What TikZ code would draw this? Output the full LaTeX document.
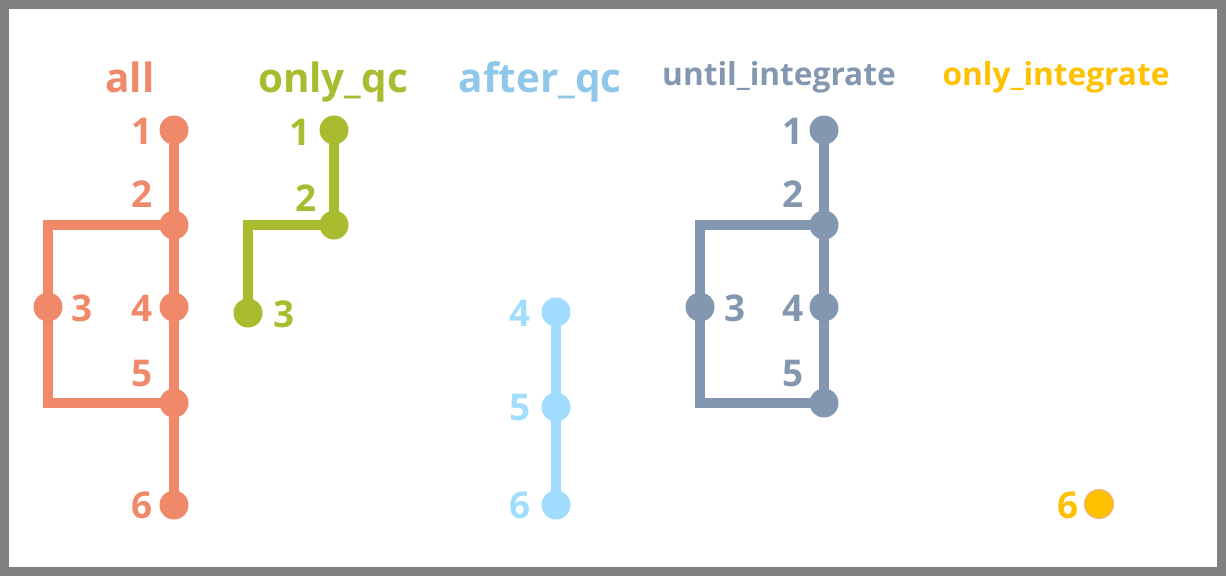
\documentclass[tikz,border=0pt]{standalone}
\usepackage{fontspec}
\setmainfont{Open Sans}
\usetikzlibrary{positioning}
\definecolor{colall}{RGB}{240,137,106}
\definecolor{colqc}{RGB}{169,187,46}
\definecolor{colafter}{RGB}{160,221,255}
\definecolor{colaftertit}{RGB}{142,199,232}
\definecolor{coluntil}{RGB}{132,151,176}
\definecolor{colint}{RGB}{255,192,0}
\definecolor{colintborde}{RGB}{244,177,131}
\definecolor{marco}{RGB}{128,128,128}

\begin{document}
\begin{tikzpicture}[x=0.02cm,y=-0.02cm,
		punto/.style={circle,fill,inner sep=0pt,minimum size=0.58cm},
		linea/.style={line width=0.2cm},
		numero/.style={font=\fontsize{21}{24}\selectfont\bfseries,inner sep=0pt},
		titulo/.style={font=\fontsize{23}{27}\selectfont\bfseries,anchor=base,inner sep=0pt},
		titulochico/.style={font=\fontsize{18}{22}\selectfont\bfseries,anchor=base,inner sep=0pt}]
			% Marco
			\useasboundingbox (0,0) rectangle (1226,576);
			\draw[marco,line width=0.18cm] (4.5,4.5) rectangle (1221.5,571.5);

			% Titulos
			\node[titulo,colall] (tall) at (130,92) {all};
			\node[titulo,colqc] (tqc) at (333,92) {only\_qc};
			\node[titulo,colaftertit] (tafter) at (540,92) {after\_qc};
			\node[titulochico,coluntil] (tuntil) at (779,85) {until\_integrate};
			\node[titulochico,colint] (tint) at (1056,85) {only\_integrate};

			% all
			\node[punto,colall] (a1) at (174,130) {};
			\node[punto,colall] (a2) at (174,225) {};
			\node[punto,colall] (a3) at (48,307) {};
			\node[punto,colall] (a4) at (174,307) {};
			\node[punto,colall] (a5) at (174,403) {};
			\node[punto,colall] (a6) at (174,505) {};
			\draw[linea,colall] (a1.center) -- (a2.center) -- (a4.center) -- (a5.center) -- (a6.center);
			\draw[linea,colall] (a2.center) -| (a3.center) |- (a5.center);
			\node[numero,colall] (na1) at (142,131) {1};
			\node[numero,colall] (na2) at (142,194) {2};
			\node[numero,colall] (na3) at (82,308) {3};
			\node[numero,colall] (na4) at (142,308) {4};
			\node[numero,colall] (na5) at (142,373) {5};
			\node[numero,colall] (na6) at (142,505) {6};

			% only_qc
			\node[punto,colqc] (q1) at (334,130) {};
			\node[punto,colqc] (q2) at (334,225) {};
			\node[punto,colqc] (q3) at (248,313) {};
			\draw[linea,colqc] (q1.center) -- (q2.center) -| (q3.center);
			\node[numero,colqc] (nq1) at (300,132) {1};
			\node[numero,colqc] (nq2) at (306,198) {2};
			\node[numero,colqc] (nq3) at (284,314) {3};

			% after_qc
			\node[punto,colafter] (f4) at (556,312) {};
			\node[punto,colafter] (f5) at (556,407) {};
			\node[punto,colafter] (f6) at (556,505) {};
			\draw[linea,colafter] (f4.center) -- (f5.center) -- (f6.center);
			\node[numero,colafter] (nf4) at (520,313) {4};
			\node[numero,colafter] (nf5) at (520,407) {5};
			\node[numero,colafter] (nf6) at (520,505) {6};

			% until_integrate
			\node[punto,coluntil] (u1) at (824,130) {};
			\node[punto,coluntil] (u2) at (824,225) {};
			\node[punto,coluntil] (u3) at (700,307) {};
			\node[punto,coluntil] (u4) at (824,307) {};
			\node[punto,coluntil] (u5) at (824,403) {};
			\draw[linea,coluntil] (u1.center) -- (u2.center) -- (u4.center) -- (u5.center);
			\draw[linea,coluntil] (u2.center) -| (u3.center) |- (u5.center);
			\node[numero,coluntil] (nu1) at (793,131) {1};
			\node[numero,coluntil] (nu2) at (793,194) {2};
			\node[numero,coluntil] (nu3) at (735,308) {3};
			\node[numero,coluntil] (nu4) at (793,308) {4};
			\node[numero,coluntil] (nu5) at (793,373) {5};

			% only_integrate
			\node[punto,fill=colint,draw=colintborde,line width=0.6pt] (i6) at (1099,504) {};
			\node[numero,colint] (ni6) at (1068,505) {6};
		\end{tikzpicture}
\end{document}
